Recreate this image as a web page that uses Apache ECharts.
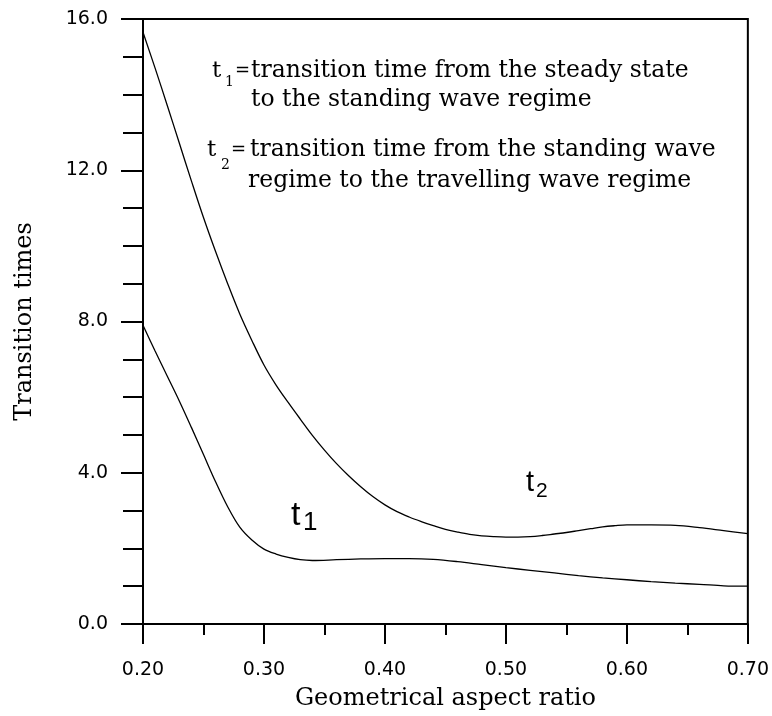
<!DOCTYPE html>
<html>
<head>
<meta charset="utf-8">
<script src="https://cdn.jsdelivr.net/npm/echarts@6/dist/echarts.min.js"></script>
<style>
html,body{margin:0;padding:0;background:#fff;}
#chart{width:772px;height:716px;}
</style>
</head>
<body>
<div id="chart"></div>
<script>
// ---- data ----
const t2X = [0.20,0.21,0.22,0.23,0.24,0.25,0.26,0.27,0.28,0.29,0.30,0.31,0.32,0.33,0.34,0.35,0.36,0.37,0.38,0.39,0.40,0.41,0.42,0.43,0.44,0.45,0.46,0.47,0.48,0.49,0.50,0.51,0.52,0.53,0.54,0.55,0.56,0.57,0.58,0.59,0.60,0.62,0.64,0.66,0.68,0.70];
const t2Y = [15.65,14.7,13.72,12.72,11.72,10.75,9.85,9.0,8.2,7.5,6.85,6.32,5.86,5.42,4.99,4.6,4.24,3.92,3.63,3.37,3.15,2.97,2.83,2.71,2.6,2.5,2.43,2.37,2.33,2.31,2.30,2.30,2.31,2.34,2.38,2.42,2.47,2.52,2.57,2.6,2.62,2.62,2.61,2.55,2.47,2.39];
const t1X = [0.20,0.21,0.22,0.23,0.24,0.25,0.26,0.27,0.28,0.29,0.30,0.31,0.32,0.33,0.34,0.36,0.38,0.40,0.42,0.44,0.46,0.48,0.50,0.52,0.54,0.56,0.58,0.60,0.62,0.64,0.66,0.68,0.70];
const t1Y = [7.9,7.22,6.56,5.9,5.2,4.48,3.76,3.1,2.56,2.22,1.98,1.85,1.76,1.70,1.68,1.70,1.72,1.73,1.73,1.71,1.65,1.57,1.49,1.42,1.35,1.28,1.22,1.17,1.12,1.08,1.05,1.01,1.00];
const xTicks = {min:0.2, max:0.7, step:0.1};
const yTicks = {min:0, max:16, step:4};
const xName = 'Geometrical aspect ratio';
const yName = 'Transition times';
const note1 = 'transition time from the steady state';
const note2 = 'to the standing wave regime';
const note3 = 'transition time from the standing wave';
const note4 = 'regime to the travelling wave regime';

const pairs = (xs, ys) => xs.map((x, i) => [x, ys[i]]);
const serif = 'DejaVu Serif';
const sans = 'DejaVu Sans';

const chart = echarts.init(document.getElementById('chart'), null, {renderer:'canvas'});
function txt(text, x, y, font, size) {
  return {
    type:'text', x:x, y:y, silent:true,
    style:{text:text, fill:'#000', font: size + 'px "' + font + '"', verticalAlign:'middle', align:'left'}
  };
}
const option = {
  animation:false,
  backgroundColor:'#fff',
  grid:{left:143, top:19, width:608, height:606, show:true, borderColor:'#000', borderWidth:2, backgroundColor:'transparent'},
  xAxis:{
    type:'value', min:xTicks.min, max:xTicks.max, interval:xTicks.step,
    name:xName, nameLocation:'middle', nameGap:63,
    nameTextStyle:{fontFamily:serif, fontSize:24, color:'#000'},
    axisLine:{lineStyle:{color:'#000', width:2}},
    axisTick:{show:true, inside:false, length:20, lineStyle:{color:'#000', width:2}},
    minorTick:{show:true, splitNumber:2, length:11, lineStyle:{color:'#000', width:2}},
    splitLine:{show:false},
    axisLabel:{formatter:v=>v.toFixed(2), fontFamily:sans, fontSize:19, color:'#000', margin:37}
  },
  yAxis:{
    type:'value', min:yTicks.min, max:yTicks.max, interval:yTicks.step,
    name:yName, nameLocation:'middle', nameGap:106,
    nameTextStyle:{fontFamily:serif, fontSize:24, color:'#000'},
    axisLine:{lineStyle:{color:'#000', width:2}},
    axisTick:{show:true, inside:false, length:22, lineStyle:{color:'#000', width:2}},
    minorTick:{show:true, splitNumber:4, length:20, lineStyle:{color:'#000', width:2}},
    splitLine:{show:false},
    axisLabel:{formatter:v=>v.toFixed(1), fontFamily:sans, fontSize:19, color:'#000', margin:35}
  },
  series:[
    {type:'line', name:'t2', data:pairs(t2X,t2Y), smooth:0.35, showSymbol:false, lineStyle:{color:'#000', width:1.3}},
    {type:'line', name:'t1', data:pairs(t1X,t1Y), smooth:0.35, showSymbol:false, lineStyle:{color:'#000', width:1.3}}
  ],
  graphic:[
    txt('t', 212, 71, serif, 23),
    txt('1', 225, 82, serif, 14),
    txt('=', 235, 71, serif, 18),
    txt(note1, 251, 71, serif, 23.5),
    txt(note2, 251, 100, serif, 23.5),
    txt('t', 207, 150, serif, 23),
    txt('2', 221, 165, serif, 14),
    txt('=', 231, 150, serif, 18),
    txt(note3, 250, 150, serif, 23.5),
    txt(note4, 248, 181, serif, 23.5),
    txt('t', 291, 516, 'Liberation Sans', 34),
    txt('1', 303, 523, 'Liberation Sans', 26),
    txt('t', 526, 483, 'Liberation Sans', 29),
    txt('2', 536, 491, 'Liberation Sans', 21)
  ]
};
chart.setOption(option);
</script>
</body>
</html>
